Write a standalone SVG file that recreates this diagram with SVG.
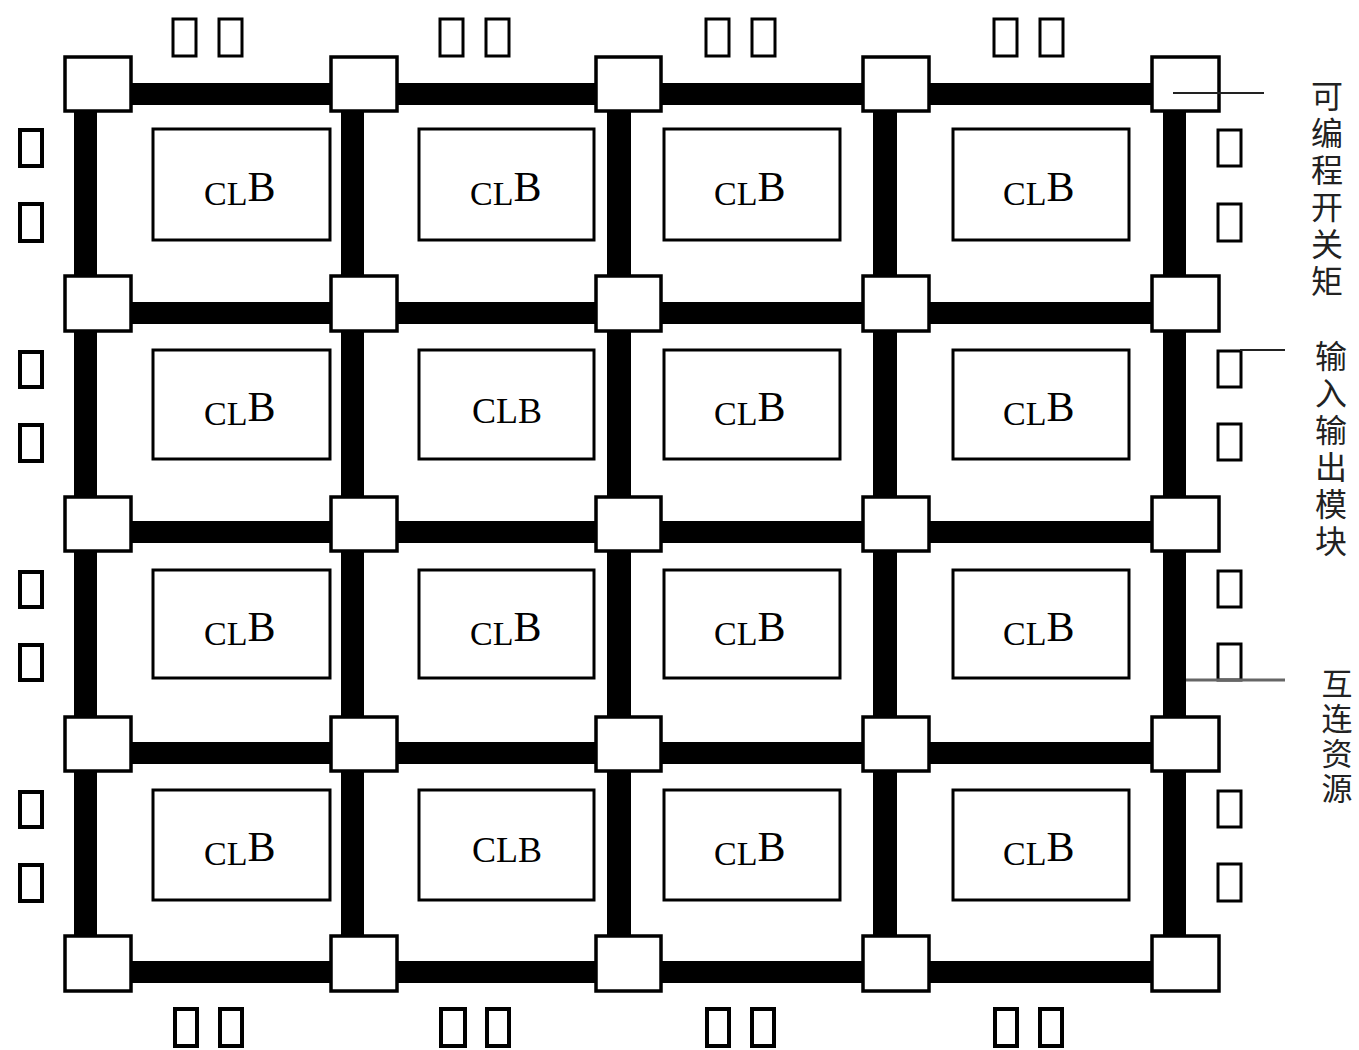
<svg xmlns="http://www.w3.org/2000/svg" width="1359" height="1050" viewBox="0 0 1359 1050">
<style>
.sw{fill:#fff;stroke:#000;stroke-width:3.5}
.clb{fill:#fff;stroke:#000;stroke-width:3}
.io{fill:#fff;stroke:#000;stroke-width:3}
.iol{fill:#fff;stroke:#000;stroke-width:4}
.wire{fill:#000}
.t{font-family:"Liberation Serif","Times New Roman",serif;fill:#000}
.s{font-size:34px}
.b{font-size:42px}
.u{font-size:36px}
.cjk{font-family:"Noto Sans CJK SC","Noto Sans",sans-serif;font-size:32px;fill:#222;writing-mode:vertical-rl;letter-spacing:5px}
.lead{stroke:#222;stroke-width:2;fill:none}
</style>
<rect width="1359" height="1050" fill="#fff"/>
<g id="connectors">
  <rect class="wire" x="64" y="83" width="1156" height="22"/>
  <rect class="wire" x="64" y="302" width="1156" height="22"/>
  <rect class="wire" x="64" y="521" width="1156" height="22"/>
  <rect class="wire" x="64" y="742" width="1156" height="22"/>
  <rect class="wire" x="64" y="961" width="1156" height="22"/>
  <rect class="wire" x="74" y="56" width="23" height="936"/>
  <rect class="wire" x="341" y="56" width="23" height="936"/>
  <rect class="wire" x="607" y="56" width="24" height="936"/>
  <rect class="wire" x="873" y="56" width="24" height="936"/>
  <rect class="wire" x="1163" y="56" width="23" height="936"/>
</g>
<g id="switches">
  <g id="sw-r1"><rect class="sw" x="65" y="57" width="66" height="54"/><rect class="sw" x="331" y="57" width="66" height="54"/><rect class="sw" x="596" y="57" width="65" height="54"/><rect class="sw" x="863" y="57" width="66" height="54"/><rect class="sw" x="1152" y="57" width="67" height="54"/></g>
  <g id="sw-r2"><rect class="sw" x="65" y="276" width="66" height="55"/><rect class="sw" x="331" y="276" width="66" height="55"/><rect class="sw" x="596" y="276" width="65" height="55"/><rect class="sw" x="863" y="276" width="66" height="55"/><rect class="sw" x="1152" y="276" width="67" height="55"/></g>
  <g id="sw-r3"><rect class="sw" x="65" y="497" width="66" height="54"/><rect class="sw" x="331" y="497" width="66" height="54"/><rect class="sw" x="596" y="497" width="65" height="54"/><rect class="sw" x="863" y="497" width="66" height="54"/><rect class="sw" x="1152" y="497" width="67" height="54"/></g>
  <g id="sw-r4"><rect class="sw" x="65" y="717" width="66" height="54"/><rect class="sw" x="331" y="717" width="66" height="54"/><rect class="sw" x="596" y="717" width="65" height="54"/><rect class="sw" x="863" y="717" width="66" height="54"/><rect class="sw" x="1152" y="717" width="67" height="54"/></g>
  <g id="sw-r5"><rect class="sw" x="65" y="936" width="66" height="55"/><rect class="sw" x="331" y="936" width="66" height="55"/><rect class="sw" x="596" y="936" width="65" height="55"/><rect class="sw" x="863" y="936" width="66" height="55"/><rect class="sw" x="1152" y="936" width="67" height="55"/></g>
</g>
<g id="clbs">
  <g id="clb-1-1"><rect class="clb" x="153" y="129" width="177" height="111"/><text class="t" x="204" y="205"><tspan class="s">CL</tspan><tspan class="b" dy="-4">B</tspan></text></g>
  <g id="clb-1-2"><rect class="clb" x="419" y="129" width="175" height="111"/><text class="t" x="470" y="205"><tspan class="s">CL</tspan><tspan class="b" dy="-4">B</tspan></text></g>
  <g id="clb-1-3"><rect class="clb" x="664" y="129" width="176" height="111"/><text class="t" x="714" y="205"><tspan class="s">CL</tspan><tspan class="b" dy="-4">B</tspan></text></g>
  <g id="clb-1-4"><rect class="clb" x="953" y="129" width="176" height="111"/><text class="t" x="1003" y="205"><tspan class="s">CL</tspan><tspan class="b" dy="-4">B</tspan></text></g>

  <g id="clb-2-1"><rect class="clb" x="153" y="350" width="177" height="109"/><text class="t" x="204" y="425"><tspan class="s">CL</tspan><tspan class="b" dy="-4">B</tspan></text></g>
  <g id="clb-2-2"><rect class="clb" x="419" y="350" width="175" height="109"/><text class="t u" x="507" y="423" text-anchor="middle">CLB</text></g>
  <g id="clb-2-3"><rect class="clb" x="664" y="350" width="176" height="109"/><text class="t" x="714" y="425"><tspan class="s">CL</tspan><tspan class="b" dy="-4">B</tspan></text></g>
  <g id="clb-2-4"><rect class="clb" x="953" y="350" width="176" height="109"/><text class="t" x="1003" y="425"><tspan class="s">CL</tspan><tspan class="b" dy="-4">B</tspan></text></g>

  <g id="clb-3-1"><rect class="clb" x="153" y="570" width="177" height="108"/><text class="t" x="204" y="645"><tspan class="s">CL</tspan><tspan class="b" dy="-4">B</tspan></text></g>
  <g id="clb-3-2"><rect class="clb" x="419" y="570" width="175" height="108"/><text class="t" x="470" y="645"><tspan class="s">CL</tspan><tspan class="b" dy="-4">B</tspan></text></g>
  <g id="clb-3-3"><rect class="clb" x="664" y="570" width="176" height="108"/><text class="t" x="714" y="645"><tspan class="s">CL</tspan><tspan class="b" dy="-4">B</tspan></text></g>
  <g id="clb-3-4"><rect class="clb" x="953" y="570" width="176" height="108"/><text class="t" x="1003" y="645"><tspan class="s">CL</tspan><tspan class="b" dy="-4">B</tspan></text></g>

  <g id="clb-4-1"><rect class="clb" x="153" y="790" width="177" height="110"/><text class="t" x="204" y="865"><tspan class="s">CL</tspan><tspan class="b" dy="-4">B</tspan></text></g>
  <g id="clb-4-2"><rect class="clb" x="419" y="790" width="175" height="110"/><text class="t u" x="507" y="862" text-anchor="middle">CLB</text></g>
  <g id="clb-4-3"><rect class="clb" x="664" y="790" width="176" height="110"/><text class="t" x="714" y="865"><tspan class="s">CL</tspan><tspan class="b" dy="-4">B</tspan></text></g>
  <g id="clb-4-4"><rect class="clb" x="953" y="790" width="176" height="110"/><text class="t" x="1003" y="865"><tspan class="s">CL</tspan><tspan class="b" dy="-4">B</tspan></text></g>
</g>
<g id="io-top">
  <rect class="io" x="173" y="19" width="23" height="37"/><rect class="io" x="219" y="19" width="23" height="37"/>
  <rect class="io" x="440" y="19" width="23" height="37"/><rect class="io" x="486" y="19" width="23" height="37"/>
  <rect class="io" x="706" y="19" width="23" height="37"/><rect class="io" x="752" y="19" width="23" height="37"/>
  <rect class="io" x="994" y="19" width="23" height="37"/><rect class="io" x="1040" y="19" width="23" height="37"/>
</g>
<g id="io-bottom">
  <rect class="iol" x="175" y="1009" width="22" height="37"/><rect class="iol" x="220" y="1009" width="22" height="37"/>
  <rect class="iol" x="441" y="1009" width="24" height="37"/><rect class="iol" x="487" y="1009" width="22" height="37"/>
  <rect class="iol" x="707" y="1009" width="22" height="37"/><rect class="iol" x="752" y="1009" width="22" height="37"/>
  <rect class="iol" x="995" y="1009" width="22" height="37"/><rect class="iol" x="1040" y="1009" width="22" height="37"/>
</g>
<g id="io-left">
  <rect class="iol" x="20" y="130" width="22" height="36"/><rect class="iol" x="20" y="204" width="22" height="37"/>
  <rect class="iol" x="20" y="352" width="22" height="35"/><rect class="iol" x="20" y="425" width="22" height="36"/>
  <rect class="iol" x="20" y="572" width="22" height="35"/><rect class="iol" x="20" y="645" width="22" height="35"/>
  <rect class="iol" x="20" y="792" width="22" height="35"/><rect class="iol" x="20" y="865" width="22" height="36"/>
</g>
<g id="io-right">
  <rect class="io" x="1218" y="130" width="23" height="36"/><rect class="io" x="1218" y="204" width="23" height="37"/>
  <rect class="io" x="1218" y="351" width="23" height="36"/><rect class="io" x="1218" y="424" width="23" height="36"/>
  <rect class="io" x="1218" y="571" width="23" height="36"/><rect class="io" x="1218" y="644" width="23" height="36"/>
  <rect class="io" x="1218" y="791" width="23" height="36"/><rect class="io" x="1218" y="864" width="23" height="37"/>
</g>
<g id="label-switch">
  <line class="lead" x1="1173" y1="93" x2="1264" y2="93"/>
  <text class="cjk" x="1327" y="80">可编程开关矩</text>
</g>
<g id="label-io">
  <line class="lead" x1="1240" y1="350" x2="1285" y2="350"/>
  <text class="cjk" x="1331" y="340">输入输出模块</text>
</g>
<g id="label-interconnect">
  <line x1="1186" y1="680" x2="1285" y2="680" stroke="#666" stroke-width="3"/>
  <text class="cjk" x="1337" y="668" style="letter-spacing:4px;font-size:31px">互连资源</text>
</g>
</svg>
